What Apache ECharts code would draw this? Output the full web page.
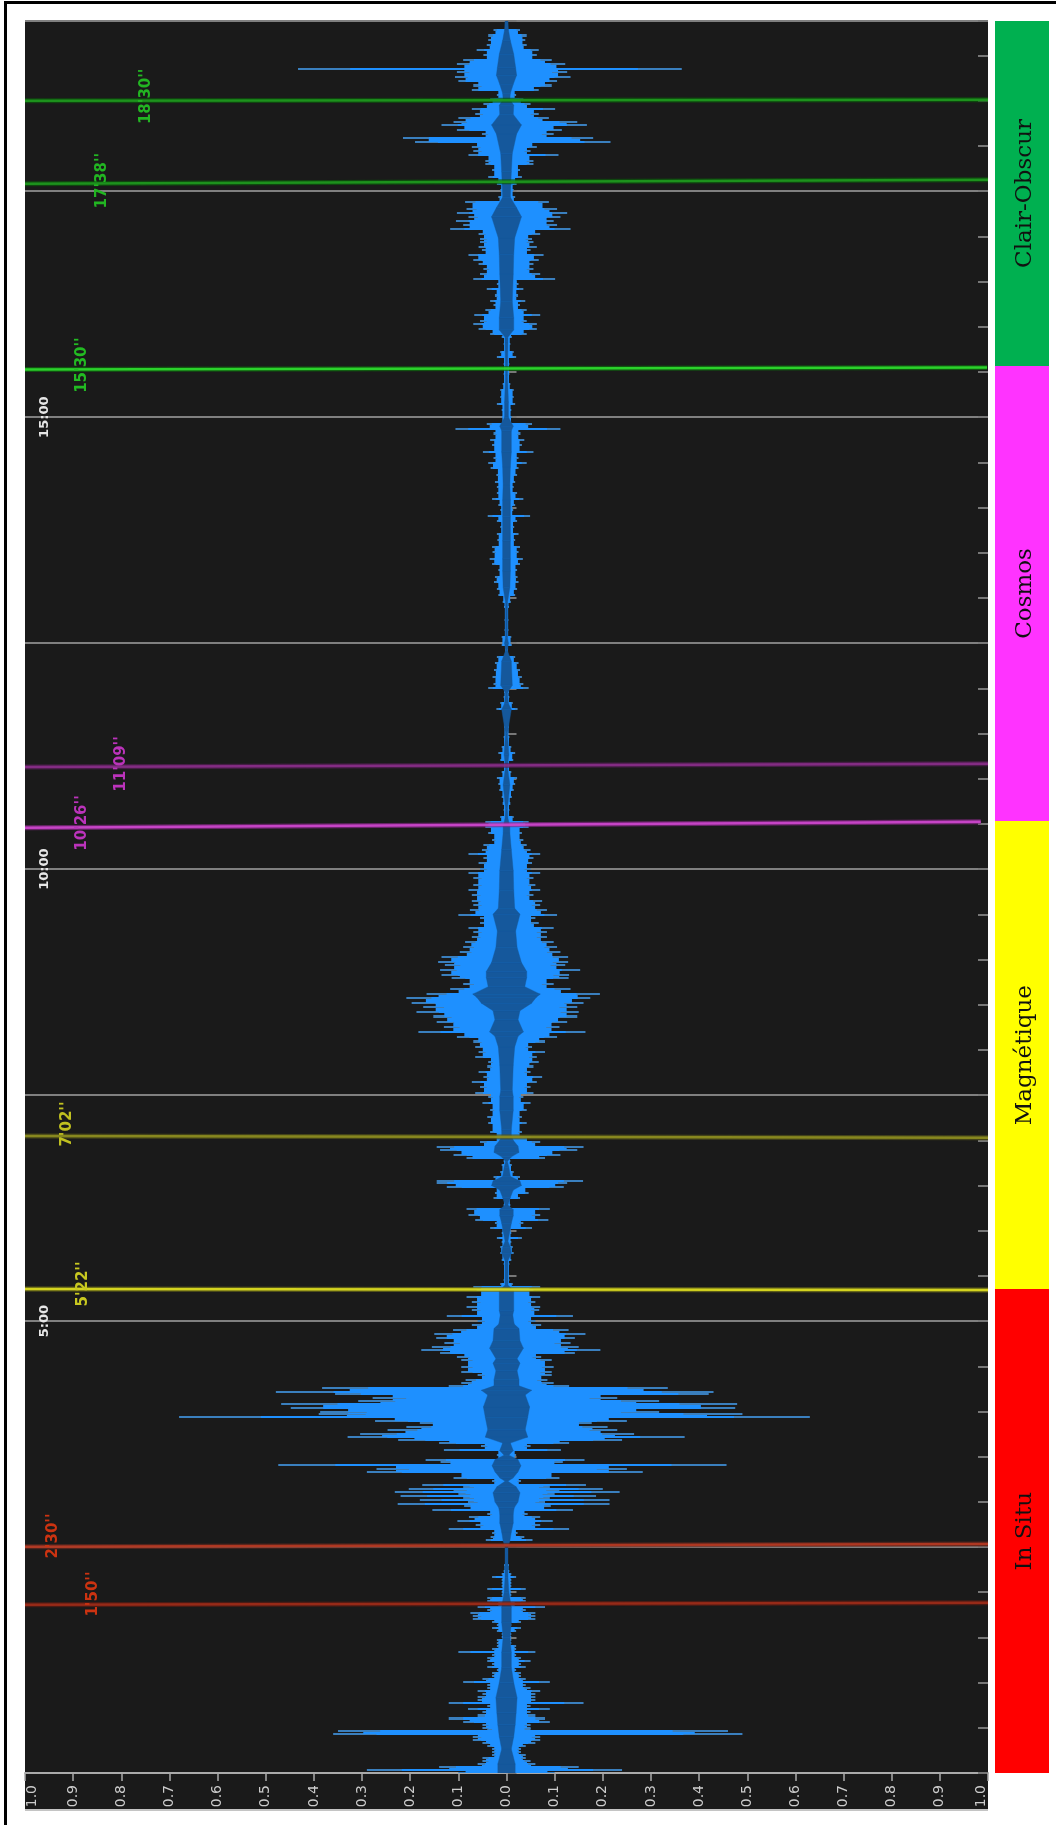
<!DOCTYPE html>
<html><head><meta charset="utf-8">
<style>html,body{margin:0;padding:0;background:#fff}#c{width:1056px;height:1825px;filter:blur(0.35px)}</style>
<script src="https://cdn.jsdelivr.net/npm/echarts@6/dist/echarts.min.js"></script>
</head><body><div id="c"></div>
<script>
// Waveform rows: time (s), negative peak and positive peak (% of full scale)
const rowTime=[0,2,4,6,8,10,12,14,16,18,20,22,24,26,27.4,29,30,32,34,36,38,40,42,44,46,48,50,52,54,56,58,60,62,64,66,68,70,72,74,76,78,80,82,84,86,88,90,92,94,96,98,100,102,104,106,108,110,112,114,116,118,120,122,124,126,128,130,132,134,138,146,
154.6,156.8,159,161.6,164.6,167.2,169.6,172,174.6,176.8,178.4,180,181.2,182.4,183.4,185,186.6,187.8,188.6,190,191,193.6,195.8,199.6,201.8,204.2,206,207.8,210.6,214,216.8,219,221,223,224.8,227.6,229.8,232,233.6,236.4,238,239.6,241.8,244.8,247,249,251.2,253,255.2,256.8,258.4,260.6,264,266.2,269.6,274,276,278.4,280.6,282.8,285.4,288.4,291.2,294,297.2,300,303.4,307.2,309.4,312.8,316,320.4,322.6,324.4,327,338,340.4,344.8,349.2,352.6,354.8,358,361.4,364.8,367,370.2,374,376.8,381.2,384.6,389,391.2,393,395.6,399,403.4,406.2,407.8,410,413.4,415.6,419,422,425.6,431,435.6,440,444.4,448.8,451.4,455.4,458.8,462,465.4,468.8,472,475.4,478.6,482,485.4,488.6,492,495.2,498.6,502,505.2,508.6,511.2,514,517,520,523.6,527.4,529.6,532.8,536.2,538.4,541.8,545,548.4,551.6,555,558.4,560.6,563.8,567.2,569.6,572.6,576,578.8,582.6,586,589.2,593.8,597,600,603.6,607,609.6,612.6,615.8,619.2,623.6,627.8,631.2,634.6,639,643.4,647.8,652.2,656.6,660,664.4,668.2,672,676.6,681,687.6,694,703.2,706.4,709.8,714.2,717.4,719.8,723,727.4,731.8,736.4,740.8,745.2,748.4,754,758.4,765,774,777.2,781.6,786,790.4,793.8,798.2,802.6,806,810.4,813.8,818.2,822.6,827,830.8,834,838,841.4,845.4,849.2,853.6,856.8,861.4,865.8,869.4,873,876.8,881.2,884.6,889,892.2,895,900,904.4,908.8,913.2,917.6,922,928.8,935.4,939.8,943,948.6,953,955.2,958.6,961.4,964,967.4,970.8,974,976.8,980.6,985.2,988.4,991.4,995,998.4,1001.2,1004.4,1007.4,1010.6,1012.8,1016,1018.2,1021.6,1025,1027.2,1029.8,1032.6,1035.4,1038.2,1042.6,1046,1050.4,1054.8,1059.2,1063.6,1068,1070.2,1073.6,1076.4,1079.2,1082.4,1085.4,1088,1090.6,1093.6,1095.8,1098.6,1101.2,1104.6,1107.8,1111.2,1114,1116.8,1120,1122.8,1125.6,1129,1131.2,1134,1137,1140,1143.6,1146.6,1150,1153.2,1156.6,1160.6];
const peakNeg=[10,29,14,6,5,5,3,3,3,4,5,7,7,36,35,4,5,5,9,12,6,5,8,4,12,6,6,5,6,4,4,9,5,3,3,2,4,3,4,4,3,10,3,2,2,2,1,1,2,3,2,3,7,7,7.5,4,6,2,4,4,1,1,4,1,1,1,3,1,.6,.5,.3,
4.3,3.3,3,12,6.4,10.2,7.8,4,15.4,8.8,22.6,8,18,9,22,10,23.2,11,20.3,9,17.5,3,11,29,27,47.4,13.7,16.8,2,13,5.3,14,22.5,33,30.4,24.7,20.8,18,27.3,68,39,38.7,44.8,46.8,30.8,27.8,35.6,47.9,38.3,12,9.4,8.5,6,9.4,9.4,9.4,10.3,13.8,17.7,15.5,12.9,14.6,15,11.1,7.2,6,12.4,7.2,8.3,7.2,8.3,6.2,6.9,1.3,.6,.6,1,1.3,1.3,1,2,1,3.4,2.4,6.5,7.9,8.3,.6,2.7,2.4,12.4,14.5,14.5,2.7,1.3,1,.6,8.3,11,13.8,14.5,5.5,2.4,3.4,3.8,4,3.4,5,3.8,6.5,5.5,7.2,4.8,5.8,4,3.8,6.5,5.8,6.5,6.9,10.3,18.3,13,14.5,15.2,18.7,17.3,19.7,20.8,16.6,11.7,9,11.4,13.5,13.8,12.8,14.2,13.5,9.7,9,8.6,7.2,6.9,7.9,5.5,5.5,10,7.6,6.9,7.2,7.2,7.9,6.9,6.9,7.9,5.5,5.8,4.8,7.9,5.1,4.8,3,3.8,4.4,4.4,1.3,.6,.8,1,1.5,1.7,2,1,.6,1.3,1.7,1,.6,.5,.6,2.1,1.3,.6,.5,3.8,2.7,2.9,2.6,2.4,2,.3,1,1,.4,.4,.5,.8,1.7,2,2.6,2.4,1.7,3,3.5,2.9,3,1.9,2,1.3,2,3.9,1.3,1.7,3,2,2,2.4,2.1,3.3,3.8,2.7,4.9,3,3.4,2.7,10.6,4.1,1,1,2,1.3,1.3,.8,.6,.6,2,1.3,.6,1,3.4,5.8,6.9,5.5,6.7,4.4,2.7,3.4,2.4,4.1,2,6.9,5.5,4.8,5.8,6.9,7.9,5.1,5.8,5.5,5.5,5.8,11.7,9,10.5,7.9,10.3,8.3,8.6,1.7,1.3,2,3.8,3,4.4,4.4,7.9,6.9,7.2,19,21.5,5.1,10.3,13.5,11,10,6.5,7.2,4.8,3.4,2,7.2,6.9,10,10.7,10.3,43.3,10.3,9,4.8,6.2,4.1,3.8,3.8,2.7,.3];
const peakPos=[10,24,15,6,5,4,4,3,3,4,6,7,7,49,46,5,5,5,9,8,6,5,9,5,16,6,6,6,7,5,4,9,4,3,3,2,4,3,5,3,2,6,2,2,1,1,1,1,2,3,1,3,6,6,6,4,8,2,4,4,1,1,4,1,1,1,2,1,.6,.5,.3,
5.4,3.7,2.3,13,7,9.6,7,4.4,13.8,9.2,21.4,8,21.4,9,18.6,10,23.5,11,20,9,16.5,3,11,28.3,25,45.7,11.7,16.2,2,11.3,5,13,24,37,26.5,23,21,17.7,25,63,49,31.7,47.5,47.9,31.7,23,42,43,33.5,13,9.8,8.5,9.4,9.4,9.8,9.4,7.2,14.2,19.5,15,13.3,14.2,16.4,12.9,7.2,6,13.8,6.8,7,6,7,5.6,7,1.3,.6,.6,1,1.5,1.3,1,3.2,1,5.3,3.5,8.7,7,9,.8,2.8,4.6,11.9,12.6,15.9,2.8,1.5,1.1,.8,8,11.2,14.7,16,7,5,3.2,4.2,3.2,4.2,5,3.5,5.6,5,6.3,7.4,5,5.6,6.7,6.3,8,5.3,8,10.5,16.4,11,12.6,14.7,15,14.7,16,17.4,19.4,13.3,9.8,12.9,13,15.3,12.2,12.8,12.8,11.2,10.5,9.8,8.4,8.4,9.8,6.7,6,10.5,8.4,7,7.4,5.6,7,6,5.6,7,5,5.3,5.6,7,5,4.2,3.5,3.2,4.6,4.6,1.5,.6,.8,1.1,1.5,1.8,2.2,1,.6,1.4,1.8,1,.6,.5,.6,2.3,1.3,.6,.5,4.6,3.5,3.2,2.8,2.5,1.8,.3,1.1,1,.4,.4,.5,.9,1.8,2.2,2.5,2.3,2.2,2.8,3.4,2.5,2.8,1.8,2.5,1.6,2.2,4.9,1.4,1.8,3.5,2.2,1.5,1.8,2.2,2.5,4.2,2.5,5.6,3.2,3.7,2.9,11.2,5.3,1.1,1,1.8,1.5,1.5,.8,.6,.6,2,1.5,.8,1.1,4.2,6.3,6.3,4.2,7,4.2,2.8,3.9,2.4,3.5,2.5,10.1,7,5.6,5.6,6.7,7.7,5,6.3,5.6,5.3,7,13.3,10.5,9.8,11.2,12.6,10.5,8.8,1.8,1.5,2.1,3.2,2.8,5.6,5.6,10.8,5,6.3,21.6,18,9.8,11.5,16.7,14.7,8.8,6.7,10.1,5,3.5,2,6.7,9.4,10.5,13.3,12.6,36.4,12.2,9.4,6.3,6.7,4.2,3.9,4.2,2.8,.3];
// Inner (RMS) envelope: time (s), half-width (% of full scale)
const rmsTime=[0,6,16,24,32,40,50,60,70,80,90,100,110,120,130,150,154,160,166,172,176,180,186,190,193.6,196,200,204,208,211,214,219,223,228,236,243,251,254,257,261,267,272,275,282,287,295,298,304,307,320,324,340,345,349,353,365,370,374,377,382,387,390,393,396,402,406,409,412,416,420,423,427,440,449,453,470,482,489,492,500,506,511,515,517,522,528,532,538,548,559,570,574,586,599,613,624,628,634,640,656,668,676,690,706,710,717,722,738,745,750,754,777,787,798,806,818,834,845,855,867,877,891,894,900,910,928,950,953,958,966,977,995,1008,1019,1033,1039,1046,1063,1075,1088,1094,1101,1107,1111,1115,1121,1127,1132,1141,1150,1157,1163];
const rmsHalf=[1.8,1.8,1,1.5,1.8,2,2.2,1.5,1,1,.7,1,1,.5,.3,.3,.7,1,1.4,1.4,1.6,2.4,2.8,2,.3,1.4,2.4,3,2.4,.5,1.4,.8,4.4,3.9,4.4,4.8,3.9,5.2,2.6,2.6,2.2,2.8,2.2,3.5,2.8,2.6,1.6,1.3,1.5,1.5,.3,.3,1,.8,.3,1,1.4,1.4,.3,.8,1.4,3.1,2.8,.8,.5,.2,1,2.6,2.4,1.4,1,1,1.4,1.4,1.2,1.4,1.7,2.4,3.5,2.4,2.8,5.2,6.2,7,3.8,4.2,4.2,3.1,2.2,1.9,2.8,1.7,1.5,1.4,1,.7,.7,.3,.2,.7,.2,.5,.2,1,.4,.2,1.2,1,.2,.4,.2,.2,.7,.8,.8,.8,.8,.8,.7,.8,1,1,1.4,.4,.4,.2,.3,.3,1.5,1.5,1.2,1.4,1.5,1.7,3.1,2.1,.8,1,1.2,2.1,3.1,1.4,1.5,.7,.8,1.4,2.1,1.9,1.5,.8,.4,.3];
// Marker lines
const markerLeftSec=[1110,1054.9,931.7,667.8,627.5,422.8,321.3,150.2,111.7];
const markerRightSec=[1110.7,1057.6,933,670,631.5,421.7,320.6,152,113];
const markerEndAmp=[1,1,.998,1,.985,1,1,1,1];
const markerCore=['#1f9a1f','#1f9a1f','#2fe02f','#8a2f8a','#d048d0','#8f8f20','#e0e020','#b83a22','#a02c18'];
const markerHalo=['#0b5a0b','#0b5a0b','#0e6e0e','#5a205a','#8a2a8a','#55551a','#77771a','#6a2a20','#601d14'];
// Marker labels
const labelText=["18'30''","17'38''","15'30''","11'09''","10'26''","7'02''","5'22''","2'30''","1'50''"];
const labelAmp=[-.748,-.839,-.881,-.80,-.881,-.912,-.880,-.942,-.858];
const labelSec=[1113,1057,934.6,669.8,630.6,430.8,324.6,157.3,118.8];
const labelColor=['#22b522','#22b522','#22bb22','#bb33bb','#bb33bb','#c0c020','#c8c820','#cc3311','#cc3311'];
// Sections
const sectionName=['In Situ','Magnétique','Cosmos','Clair-Obscur'];
const sectionStart=[0,321,632,934];
const sectionEnd=[321,632,934,1163];
const sectionColor=['#ff0000','#ffff00','#ff33ff','#00b050'];
const duration=1163;

const chart=echarts.init(document.getElementById('c'),null,{renderer:'canvas'});
const LIGHT='#1e90ff',TIP='#3a7fbe',DARK='#15589c';
const pct=v=>v/100;
const rect=(api,x0,x1,t0,t1,fill)=>{
  const a=api.coord([x0,t1]),b=api.coord([x1,t0]);
  const y0=Math.round(a[1]),y1=Math.round(b[1]);
  return {type:'rect',shape:{x:a[0],y:y0,width:b[0]-a[0],height:Math.max(y1-y0,1)},style:{fill}};
};
const yCommon={type:'value',min:0,max:duration,splitLine:{show:false},axisLine:{show:false},axisLabel:{show:false},axisTick:{show:false}};
const tickStyle={show:true,inside:true,length:10,lineStyle:{color:'#777',width:2}};
const option={
  animation:false,
  backgroundColor:'#ffffff',
  graphic:[
    {type:'rect',z:-10,silent:true,shape:{x:25,y:1773,width:963,height:37},style:{fill:'#1a1a1a'}},
    {type:'rect',z:-9,silent:true,shape:{x:25,y:1809,width:963,height:2},style:{fill:'#c4c4c4'}},
    {type:'rect',z:-9,silent:true,shape:{x:4,y:1,width:1052,height:3},style:{fill:'#000'}},
    {type:'rect',z:-9,silent:true,shape:{x:4,y:1,width:3,height:1824},style:{fill:'#000'}}
  ],
  grid:[
    {left:25,top:21,width:963,height:1752,show:true,backgroundColor:'#1a1a1a',borderWidth:0},
    {left:995,top:21,width:54,height:1752,show:false}
  ],
  xAxis:[
    {type:'value',gridIndex:0,min:-1,max:1,interval:.1,position:'bottom',
     axisLine:{show:true,onZero:false,lineStyle:{color:'#aaa',width:2}},
     axisTick:{show:true,length:8,lineStyle:{color:'#aaa',width:1.5}},
     splitLine:{show:false},
     axisLabel:{rotate:90,margin:12,color:'#cccccc',fontFamily:'DejaVu Sans',fontSize:14,
       verticalAlignMinLabel:'top',verticalAlignMaxLabel:'bottom',
       formatter:v=>Math.abs(v).toFixed(1)}},
    {type:'value',gridIndex:1,min:0,max:1,show:false}
  ],
  yAxis:[
    Object.assign({},yCommon,{gridIndex:0,position:'left',interval:30,axisTick:tickStyle}),
    Object.assign({},yCommon,{gridIndex:0,position:'right',interval:30,axisTick:tickStyle}),
    Object.assign({},yCommon,{gridIndex:0,position:'left',interval:150,
      splitLine:{show:true,lineStyle:{color:'#808080',width:2}},
      axisLabel:{show:true,inside:true,rotate:90,margin:13,color:'#e6e6e6',fontFamily:'DejaVu Sans',fontWeight:'bold',fontSize:13,
        formatter:v=>(v>0&&v%300===0)?(v/60)+':00':''}}),
    Object.assign({},yCommon,{gridIndex:1,show:false})
  ],
  series:[
    {type:'custom',xAxisIndex:0,yAxisIndex:0,z:3,clip:true,silent:true,
     data:rowTime.map((t,i)=>[peakPos[i],t]),
     renderItem(p,api){
       const i=p.dataIndex,t=rowTime[i],t1=i+1<rowTime.length?rowTime[i+1]:duration;
       const n=peakNeg[i],q=peakPos[i];
       const nn=i+1<rowTime.length?peakNeg[i+1]:n,qq=i+1<rowTime.length?peakPos[i+1]:q;
       return {type:'group',children:[
         rect(api,-pct(n),pct(q),t-.5,t+.85,TIP),
         rect(api,-pct(n)*.75,pct(q)*.75,t-.5,t+.85,LIGHT),
         rect(api,-pct(Math.min(n,nn))*.85,pct(Math.min(q,qq))*.85,t,t1,LIGHT)
       ]};
     }},
    {type:'custom',xAxisIndex:0,yAxisIndex:0,z:4,clip:true,silent:true,
     data:rmsTime.slice(0,-1).map((t,i)=>[rmsHalf[i],t]),
     renderItem(p,api){
       const i=p.dataIndex,t0=rmsTime[i],t1=rmsTime[i+1],a=pct(rmsHalf[i]),b=pct(rmsHalf[i+1]);
       const pts=[[-a,t0],[a,t0],[b,t1],[-b,t1]].map(c=>api.coord(c));
       return {type:'polygon',shape:{points:pts},style:{fill:DARK,stroke:DARK,lineWidth:.4}};
     }},
    {type:'custom',xAxisIndex:0,yAxisIndex:0,z:5,clip:true,silent:true,
     data:markerLeftSec.map((t,i)=>[-1,t]),
     renderItem(p,api){
       const i=p.dataIndex,a=api.coord([-1,markerLeftSec[i]]),b=api.coord([markerEndAmp[i],markerRightSec[i]]);
       const s={x1:a[0],y1:a[1],x2:b[0],y2:b[1]};
       return {type:'group',children:[
         {type:'line',shape:s,style:{stroke:markerHalo[i],lineWidth:5,opacity:.7}},
         {type:'line',shape:s,style:{stroke:markerCore[i],lineWidth:2.5,opacity:.9}}
       ]};
     }},
    {type:'custom',xAxisIndex:0,yAxisIndex:0,z:6,clip:false,silent:true,
     data:labelSec.map((t,i)=>[labelAmp[i],t]),
     renderItem(p,api){
       const i=p.dataIndex,c=api.coord([labelAmp[i],labelSec[i]]);
       return {type:'text',x:c[0],y:c[1],rotation:Math.PI/2,
         style:{text:labelText[i],fill:labelColor[i],font:'600 15px "DejaVu Sans"',align:'center',verticalAlign:'middle'}};
     }},
    {type:'custom',xAxisIndex:1,yAxisIndex:3,z:3,clip:false,silent:true,
     data:sectionStart.map((t,i)=>[0,t]),
     renderItem(p,api){
       const i=p.dataIndex,r=rect(api,0,1,sectionStart[i],sectionEnd[i],sectionColor[i]);
       const c=api.coord([.56,(sectionStart[i]+sectionEnd[i])/2]);
       return {type:'group',children:[r,{type:'text',x:c[0],y:c[1],rotation:Math.PI/2,
         style:{text:sectionName[i],fill:'#111',font:'23px "DejaVu Serif"',align:'center',verticalAlign:'middle'}}]};
     }}
  ]
};
chart.setOption(option);
</script></body></html>
